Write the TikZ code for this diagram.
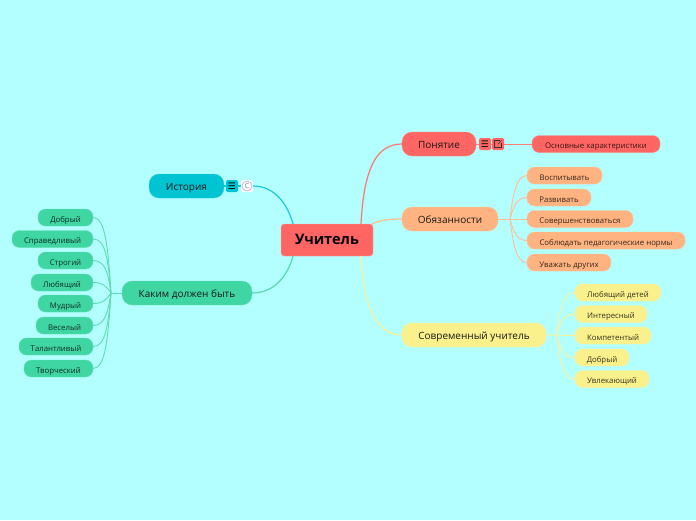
\documentclass[tikz,border=0pt]{standalone}
\usepackage{fontspec}
\setmainfont{Open Sans}
\newfontfamily\symfont{DejaVu Sans}
\usetikzlibrary{positioning}
\definecolor{bgc}{RGB}{179,255,255}
\definecolor{redc}{RGB}{255,102,99}
\definecolor{orc}{RGB}{255,179,128}
\definecolor{yelc}{RGB}{250,240,140}
\definecolor{grnc}{RGB}{64,214,163}
\definecolor{tealc}{RGB}{0,196,209}

\begin{document}
\begin{tikzpicture}[
  x=1pt,y=-1pt,
  rootn/.style={draw=white!45!redc,fill=redc,rounded corners=3pt,inner sep=0pt,outer sep=0pt,minimum width=92pt,minimum height=32pt,font=\fontsize{14.5}{16}\selectfont\bfseries,text height=.9em,text depth=0pt},
  branch/.style={draw=white!25!#1,fill=#1,rounded corners=10pt,inner sep=0pt,outer sep=0pt,minimum height=24pt,font=\fontsize{10}{12}\selectfont,text=black!90,text height=.9em,text depth=0pt},
  leaf/.style={draw=white!20!#1,fill=#1,rounded corners=7.5pt,inner sep=0pt,outer sep=0pt,minimum height=17pt,font=\fontsize{7.8}{9}\selectfont,text=#1!22!black,text height=.9em,text depth=0pt},
  leafl/.style={leaf=grnc,anchor=east},
  leafr/.style={leaf=#1,anchor=west},
  icon/.style={fill=#1,rounded corners=1.5pt,inner sep=0pt,minimum size=12pt,font=\symfont\fontsize{9}{9}\selectfont},
  con/.style={draw=#1!90!white,line width=1.2pt},
  sub/.style={draw=#1!85!white,line width=.9pt}
]
\fill[bgc] (0,0) rectangle (696,520);
\useasboundingbox (0,0) rectangle (696,520);

% coordinates on the root edge and the fan hubs
\coordinate (rtl) at (293,224);
\coordinate (rbl) at (293,256);
\coordinate (rtr) at (361,224);
\coordinate (rtq) at (372,224);
\coordinate (rbr) at (361,256);
\coordinate (ghub) at (111,293);
\coordinate (ohub) at (510,219);
\coordinate (yhub) at (557,335);

\node[rootn] (root) at (327,240) {Учитель};
\node[branch=tealc,minimum width=75pt] (hist) at (186.5,186) {История};
\node[branch=grnc,minimum width=130pt] (kak) at (187,293) {Каким должен быть};
\node[branch=redc,minimum width=74pt] (pon) at (439,144) {Понятие};
\node[branch=orc,minimum width=96pt] (obz) at (450,219) {Обязанности};
\node[branch=yelc,minimum width=144pt] (sov) at (474,335) {Современный учитель};

% note and link marks beside the branches
\node[icon=tealc] (ihist) at (232,186) {☰};
\node[icon=white!85!bgc,text=black!50,font=\fontsize{7}{7}\selectfont] (ic) at (247,186) {C};
\draw[violet!30,line width=.8pt] (ic) circle (5pt);
\node[icon=redc] (ipon) at (485,144) {☰};
\node[icon=redc] (ilink) at (498,144) {};
\draw[black!80,line width=.6pt] ([shift={(1.5,-3.5)}]ilink.center) -- ++(-5,0) -- ++(0,7) -- ++(7,0) -- ++(0,-5);
\draw[black!80,line width=.6pt] (ilink.center) -- ++(3.5,-3.5);

\node[leaf=redc,minimum width=128pt] (osn) at (596,144) {Основные характеристики};

\node[leafr=orc,minimum width=75pt] (o1) at (527,175.5) {Воспитывать};
\node[leafr=orc,minimum width=64pt] (o2) at (527,197.5) {Развивать};
\node[leafr=orc,minimum width=106pt] (o3) at (527,219) {Совершенствоваться};
\node[leafr=orc,minimum width=158pt] (o4) at (527,240.5) {Соблюдать педагогические нормы};
\node[leafr=orc,minimum width=84pt] (o5) at (527,262.5) {Уважать других};

\node[leafr=yelc,minimum width=86pt] (y1) at (575,292.5) {Любящий детей};
\node[leafr=yelc,minimum width=72pt] (y2) at (575,314) {Интересный};
\node[leafr=yelc,minimum width=76pt] (y3) at (575,335.5) {Компетентый};
\node[leafr=yelc,minimum width=54pt] (y4) at (575,357.5) {Добрый};
\node[leafr=yelc,minimum width=74pt] (y5) at (575,379) {Увлекающий};

\node[leafl,minimum width=55pt] (g1) at (93,217.5) {Добрый};
\node[leafl,minimum width=81pt] (g2) at (93,239) {Справедливый};
\node[leafl,minimum width=55pt] (g3) at (93,260.5) {Строгий};
\node[leafl,minimum width=62pt] (g4) at (93,282.5) {Любящий};
\node[leafl,minimum width=55pt] (g5) at (93,303.5) {Мудрый};
\node[leafl,minimum width=57pt] (g6) at (93,325.5) {Веселый};
\node[leafl,minimum width=74pt] (g7) at (93,346.5) {Талантливый};
\node[leafl,minimum width=69pt] (g8) at (93,368.5) {Творческий};

\draw[con=tealc] (hist) -- (ihist) -- (ic);
\draw[con=tealc] (ic.east) .. controls (275,186) and (288,205) .. (rtl);
\draw[con=grnc] (kak.east) .. controls (275,293) and (288,275) .. (rbl);
\draw[sub=redc] (pon.east) -- (ipon) -- (ilink) -- (osn.west);
\draw[con=redc] (pon.west) .. controls (378,144) and (364,165) .. (rtr);
\draw[con=orc] (obz.west) .. controls (390,219) and (380,220) .. (rtq);
\draw[con=yelc] (sov.west) .. controls (378,335) and (364,310) .. (rbr);

\draw[sub=grnc] (kak.west) -- (ghub);
\draw[sub=grnc] (ghub) .. controls (108,250) and (106,217.5) .. (g1.east);
\draw[sub=grnc] (ghub) .. controls (108,260) and (106,239) .. (g2.east);
\draw[sub=grnc] (ghub) .. controls (108,272) and (105,260.5) .. (g3.east);
\draw[sub=grnc] (ghub) .. controls (107,287) and (103,282.5) .. (g4.east);
\draw[sub=grnc] (ghub) .. controls (107,299) and (103,303.5) .. (g5.east);
\draw[sub=grnc] (ghub) .. controls (108,312) and (105,325.5) .. (g6.east);
\draw[sub=grnc] (ghub) .. controls (108,325) and (106,346.5) .. (g7.east);
\draw[sub=grnc] (ghub) .. controls (108,336) and (106,368.5) .. (g8.east);

\draw[sub=orc] (obz.east) -- (o3.west);
\draw[sub=orc] (ohub) .. controls (513,195) and (516,175.5) .. (o1.west);
\draw[sub=orc] (ohub) .. controls (513,208) and (516,197.5) .. (o2.west);
\draw[sub=orc] (ohub) .. controls (513,230) and (516,240.5) .. (o4.west);
\draw[sub=orc] (ohub) .. controls (513,243) and (516,262.5) .. (o5.west);

\draw[sub=yelc] (sov.east) -- (y3.west);
\draw[sub=yelc] (yhub) .. controls (559,311) and (563,292.5) .. (y1.west);
\draw[sub=yelc] (yhub) .. controls (559,325) and (563,314) .. (y2.west);
\draw[sub=yelc] (yhub) .. controls (559,346) and (563,357.5) .. (y4.west);
\draw[sub=yelc] (yhub) .. controls (559,358) and (563,379) .. (y5.west);
\end{tikzpicture}
\end{document}
